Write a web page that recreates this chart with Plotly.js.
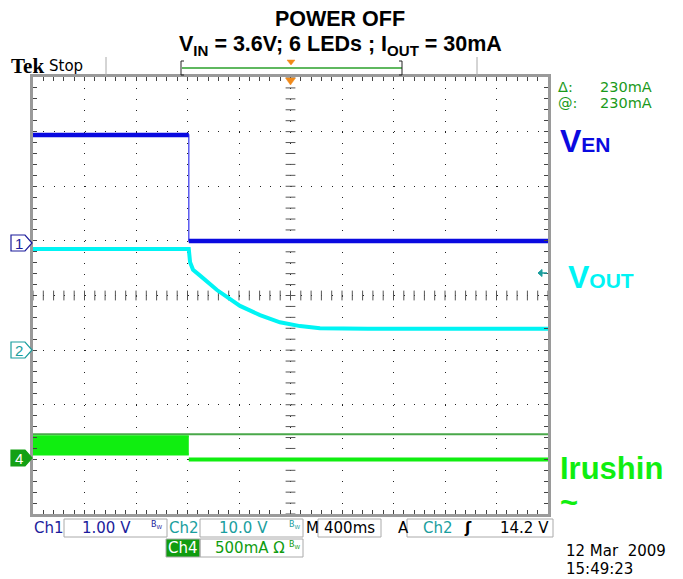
<!DOCTYPE html>
<html><head><meta charset="utf-8">
<script src="https://cdn.plot.ly/plotly-3.0.1.min.js"></script>
<style>html,body{margin:0;padding:0;background:#fff}#chart{width:683px;height:579px}</style>
</head><body><div id="chart"></div>
<script>
// ---- data (time base 400 ms/div, trigger at screen centre) ----
const ch1Time  = [-2.0, -0.79, -0.79, 2.0];
const ch1Volts = [1.94, 1.94, 0.0, 0.0];               // V_EN (V)

const ch2Time  = [-2.0, -0.79, -0.78, -0.757, -0.70, -0.571, -0.48, -0.392, -0.237, -0.082, 0.074, 0.229, 0.6, 2.0];
const ch2Volts = [18.5, 18.5, 16.1, 14.7, 13.6, 11.0, 9.5, 8.1, 6.4, 5.1, 4.4, 4.0, 3.9, 3.9]; // V_OUT (V)

const ch4BandTime = [-2.0, -0.79];
const ch4BandHigh = [212, 212];                         // inrush ripple envelope (mA)
const ch4BandLow  = [45, 45];
const ch4Time = [-0.79, 2.0];
const ch4Amps = [0, 0];                                 // I_rushin after power off (mA)

const cursorTime = [-2.0, 2.0];
const cursorAmps = [230, 230];                          // horizontal cursor (mA)

// channel settings: scale per div and ground position (div from centre)
const CH1 = {scale: 1.0, pos: 1};
const CH2 = {scale: 10.0, pos: -1};
const CH4 = {scale: 500, pos: -3};
const toDiv = (arr, ch) => arr.map(v => v === null ? null : v / ch.scale + ch.pos);

// ---- pixel helpers for decorations ----
const L = 33, T = 77, W = 515, H = 437;
const px = x => (x - L) / W;
const py = y => (T + H - y) / H;

const minorT = [], minorY = [];
for (let i = 0; i <= 50; i++) minorT.push(-2 + i * 0.08);
for (let i = 0; i <= 40; i++) minorY.push(-4 + i * 0.2);

const blue = '#0a0ae0', cyan = '#00f4f4', green = '#10ee10', dgreen = '#14a014', teal = '#1a9e9e', navy = '#1c1c9c';

// level segments of ch1 (no vertical edge) drawn thicker, like the noisy trace
const ch1LevelsT = ch1Time.slice(0, 2).concat([null], ch1Time.slice(2));
const ch1LevelsV = ch1Volts.slice(0, 2).concat([null], ch1Volts.slice(2));

const traces = [
  {x: minorT, y: minorT.map(() => 0), mode: 'markers', hoverinfo: 'skip',
   marker: {symbol: 'line-ns', size: 7, line: {width: 1, color: '#555'}}},
  {x: minorY.map(() => 0), y: minorY, mode: 'markers', hoverinfo: 'skip',
   marker: {symbol: 'line-ew', size: 7, line: {width: 1, color: '#555'}}},
  {x: cursorTime, y: toDiv(cursorAmps, CH4), mode: 'lines', line: {color: '#4aa84a', width: 2}},
  {x: ch4BandTime, y: toDiv(ch4BandLow, CH4), mode: 'lines', line: {color: green, width: 2}},
  {x: ch4BandTime, y: toDiv(ch4BandHigh, CH4), mode: 'lines', fill: 'tonexty', fillcolor: green, line: {color: green, width: 2}},
  {x: ch4Time, y: toDiv(ch4Amps, CH4), mode: 'lines', line: {color: green, width: 4}},
  {x: ch2Time, y: toDiv(ch2Volts, CH2), mode: 'lines', line: {color: cyan, width: 4}},
  {x: ch1Time, y: toDiv(ch1Volts, CH1), mode: 'lines', line: {color: '#5a5af0', width: 1.5}},
  {x: ch1LevelsT, y: toDiv(ch1LevelsV, CH1), mode: 'lines', connectgaps: false, line: {color: blue, width: 4.5}}
];

function marker(yc, stroke, fill) {
  const x0 = 11, x1 = 25, x2 = 32, h = 8;
  return {type: 'path', xref: 'paper', yref: 'paper',
    path: `M${px(x0)},${py(yc-h)} L${px(x1)},${py(yc-h)} L${px(x2)},${py(yc)} L${px(x1)},${py(yc+h)} L${px(x0)},${py(yc+h)} Z`,
    line: {color: stroke, width: 1.2}, fillcolor: fill};
}
function box(x0, y0, x1, y1, fill) {
  return {type: 'rect', xref: 'paper', yref: 'paper', x0: px(x0), x1: px(x1), y0: py(y1), y1: py(y0),
    line: {color: '#aaa', width: 1}, fillcolor: fill || 'rgba(0,0,0,0)'};
}
function triDown(xc, yTop, w, h, color) {
  return {type: 'path', xref: 'paper', yref: 'paper',
    path: `M${px(xc-w)},${py(yTop)} L${px(xc+w)},${py(yTop)} L${px(xc)},${py(yTop+h)} Z`,
    line: {color: color, width: 0.5}, fillcolor: color};
}

const shapes = [
  marker(243, navy, '#fff'),
  marker(350, teal, '#fff'),
  marker(458, dgreen, dgreen),
  triDown(290.5, 78, 5, 7, '#f08a1a'),
  triDown(291, 60, 4, 5, '#f08a1a'),
  // record view bar
  {type: 'line', xref: 'paper', yref: 'paper', x0: px(106), x1: px(106), y0: py(76), y1: py(57), line: {color: '#aaa', width: 1}},
  {type: 'line', xref: 'paper', yref: 'paper', x0: px(477), x1: px(477), y0: py(76), y1: py(57), line: {color: '#aaa', width: 1}},
  {type: 'line', xref: 'paper', yref: 'paper', x0: px(182), x1: px(402), y0: py(68), y1: py(68), line: {color: '#2aa02a', width: 1.5}},
  {type: 'path', xref: 'paper', yref: 'paper', path: `M${px(184)},${py(61)} L${px(181)},${py(61)} L${px(181)},${py(75)} L${px(184)},${py(75)}`, line: {color: '#222', width: 1}},
  {type: 'path', xref: 'paper', yref: 'paper', path: `M${px(399)},${py(61)} L${px(402)},${py(61)} L${px(402)},${py(75)} L${px(399)},${py(75)}`, line: {color: '#222', width: 1}},
  // right trigger level indicator
  {type: 'path', xref: 'paper', yref: 'paper', path: `M${px(538)},${py(273)} L${px(542)},${py(269.5)} L${px(542)},${py(276.5)} Z`, line: {color: teal, width: 1}, fillcolor: teal},
  {type: 'line', xref: 'paper', yref: 'paper', x0: px(541), x1: px(547), y0: py(273), y1: py(273), line: {color: teal, width: 1.5}},
  // readout boxes
  box(64, 519, 167, 537), box(200, 519, 303, 537), box(318, 519, 381, 537), box(407, 519, 553, 537),
  box(166, 539, 200, 557, '#109c10'), box(200, 539, 303, 557)
];

const F = 'Liberation Sans, Arial, sans-serif';
const D = 'DejaVu Sans, sans-serif';
function ann(x, y, text, size, color, opts, fam) {
  return Object.assign({xref: 'paper', yref: 'paper', x: px(x), y: py(y), text: text, showarrow: false,
    xanchor: 'left', yanchor: 'middle', font: {family: fam || D, size: size, color: color}}, opts || {});
}

const annotations = [
  ann(340, 46, '<b>V<sub>IN</sub> = 3.6V; 6 LEDs ; I<sub>OUT</sub> = 30mA</b>', 21.5, '#000', {xanchor: 'center'}, F),
  ann(9, 66, '<b>Tek</b>', 21, '#000', {}, 'Liberation Serif, serif'),
  ann(47, 66, 'Stop', 15, '#000'),
  ann(19, 243, '1', 15, navy, {xanchor: 'center'}, F),
  ann(19, 350, '2', 15, teal, {xanchor: 'center'}, F),
  ann(19, 458, '4', 15, '#fff', {xanchor: 'center'}, F),
  ann(556, 87, 'Δ:', 14.5, '#1a9a1a'),
  ann(598, 87, '230mA', 14.5, '#1a9a1a'),
  ann(556, 103, '@:', 14.5, '#1a9a1a'),
  ann(598, 103, '230mA', 14.5, '#1a9a1a'),
  ann(558, 141, '<b>V<span style="font-size:21px">EN</span></b>', 32, blue, {}, F),
  ann(566, 277, '<b>V<span style="font-size:21px">OUT</span></b>', 32, cyan, {}, F),
  ann(558, 468, '<b>Irushin</b>', 31, green, {}, F),
  ann(558, 502, '<b>~</b>', 31, green, {}, F),
  ann(32, 528, 'Ch1', 15, navy),
  ann(107, 528, '1.00 V', 15, navy, {xanchor: 'center'}),
  ann(157, 525, 'B<sub>W</sub>', 8, navy, {xanchor: 'center'}),
  ann(167, 528, 'Ch2', 15, teal),
  ann(243, 528, '10.0 V', 15, teal, {xanchor: 'center'}),
  ann(295, 525, 'B<sub>W</sub>', 8, teal, {xanchor: 'center'}),
  ann(304, 528, 'M', 15, '#000'),
  ann(349, 528, '400ms', 15, '#000', {xanchor: 'center'}),
  ann(396, 528, 'A', 15, '#000'),
  ann(421, 528, 'Ch2', 15, teal),
  ann(468, 528, '<b>ʃ</b>', 15, '#000', {xanchor: 'center'}),
  ann(551, 528, '14.2 V', 15, '#000', {xanchor: 'right'}),
  ann(183, 548, 'Ch4', 15, '#fff', {xanchor: 'center'}),
  ann(213, 548, '500mA Ω', 15, '#109c10'),
  ann(295, 545, 'B<sub>W</sub>', 8, '#109c10', {xanchor: 'center'}),
  ann(565, 551, '12 Mar  2009', 15, '#000', {borderpad: 0}),
  ann(565, 569, '15:49:23', 15, '#000', {borderpad: 0})
];

const layout = {
  width: 683, height: 579,
  margin: {l: L, r: 683 - L - W, t: T, b: 579 - T - H, pad: 0},
  paper_bgcolor: '#fff', plot_bgcolor: '#fff',
  showlegend: false,
  title: {text: '<b>POWER OFF</b>', font: {family: F, size: 21.5, color: '#000'},
          xref: 'paper', x: px(340), xanchor: 'center', yref: 'container', y: 1 - 18 / 579, yanchor: 'middle'},
  xaxis: {range: [-2, 2], dtick: 0.4, tick0: -2, showgrid: true, gridcolor: '#222', gridwidth: 1, griddash: '1px,9.925px',
          zeroline: false, showline: true, linecolor: '#9a9a9a', linewidth: 3, mirror: 'allticks',
          ticks: 'inside', ticklen: 4, tickcolor: '#444', showticklabels: false,
          minor: {dtick: 0.08, tick0: -2, ticks: 'inside', ticklen: 4, tickcolor: '#444', showgrid: false}},
  yaxis: {range: [-4, 4], dtick: 1, tick0: -4, showgrid: true, gridcolor: '#222', gridwidth: 1, griddash: '1px,9.3px',
          zeroline: false, showline: true, linecolor: '#9a9a9a', linewidth: 3, mirror: 'allticks',
          ticks: 'inside', ticklen: 4, tickcolor: '#444', showticklabels: false,
          minor: {dtick: 0.2, tick0: -4, ticks: 'inside', ticklen: 4, tickcolor: '#444', showgrid: false}},
  shapes: shapes,
  annotations: annotations
};

Plotly.newPlot('chart', traces, layout, {staticPlot: true, displayModeBar: false});
</script></body></html>
